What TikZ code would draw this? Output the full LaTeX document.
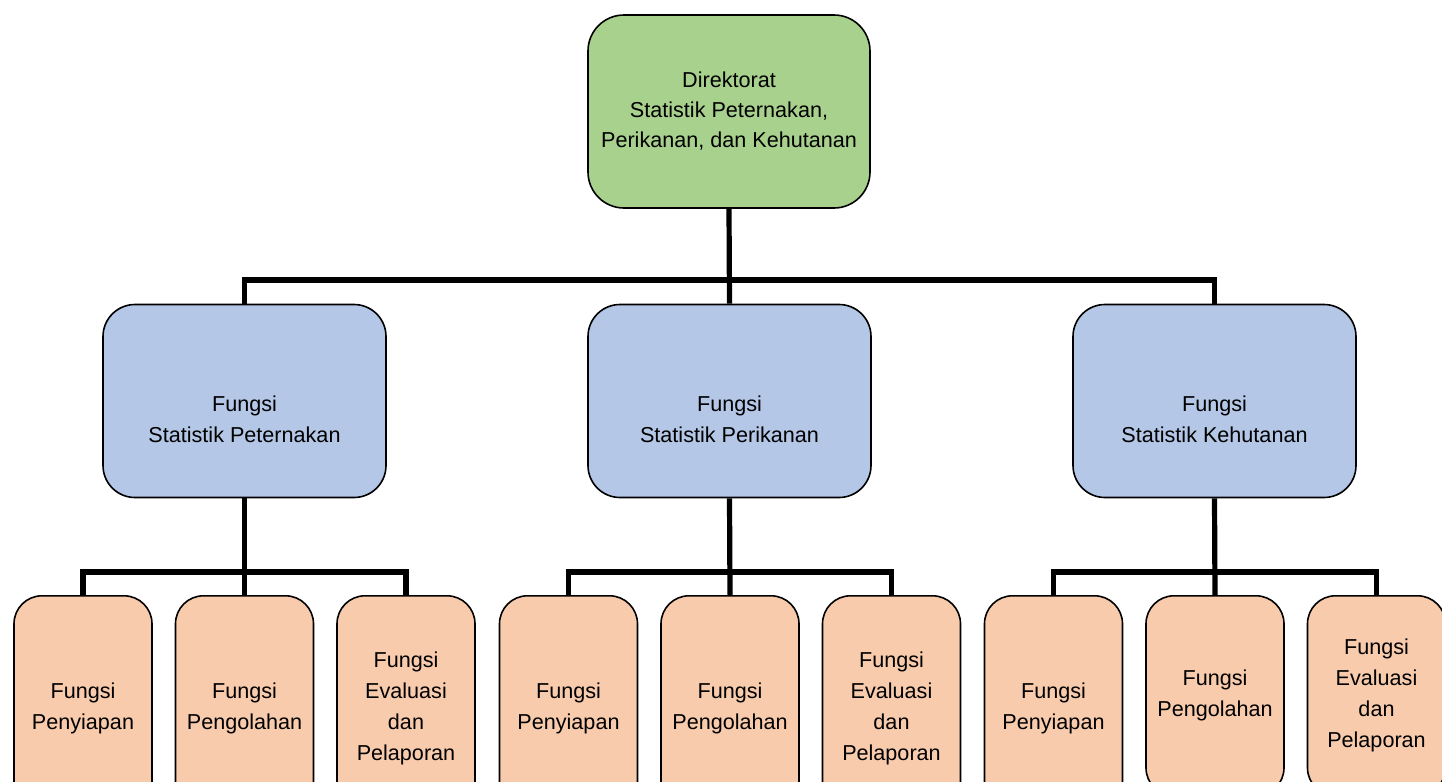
\documentclass[tikz,border=0pt]{standalone}
\usepackage{fontspec}
\setmainfont{Liberation Sans}
\usetikzlibrary{positioning}

\definecolor{dirgreen}{HTML}{A9D18E}
\definecolor{fungsiblue}{HTML}{B4C7E7}
\definecolor{suborange}{HTML}{F8CBAD}

\tikzset{
  box/.style={draw,line width=0.8pt,align=center,inner sep=0pt,
    font=\fontsize{10.8}{15.5}\selectfont},
  dirbox/.style={box,fill=dirgreen,rounded corners=18pt,
    minimum width=141pt,minimum height=96.5pt,font=\fontsize{10.8}{15}\selectfont},
  fungsibox/.style={box,fill=fungsiblue,rounded corners=16pt,
    minimum width=141.5pt,minimum height=96.5pt},
  subbox/.style={box,fill=suborange,rounded corners=14pt,anchor=north,
    minimum width=69pt,minimum height=113pt},
  txt/.style={align=center,inner sep=0pt,font=\fontsize{10.8}{15.5}\selectfont},
  conn/.style={line width=2.6pt}
}

\begin{document}
\begin{tikzpicture}[x=0.5pt,y=-0.5pt]
    \useasboundingbox (0,0) rectangle (1442,782);
    \clip (0,0) rectangle (1442,782);
    % top
    \node[dirbox] (dir) at (729,111.5) {Direktorat\\Statistik Peternakan,\\Perikanan, dan Kehutanan};
    % fungsi
    \node[fungsibox] (fungsiternak) at (244.5,401) {};
    \node[fungsibox] (fungsiikan) at (729.5,401) {};
    \node[fungsibox] (fungsihutan) at (1214.5,401) {};
    \node[txt] (fungsiternakT) at ([yshift=-9pt]fungsiternak.center) {Fungsi\\Statistik Peternakan};
    \node[txt] (fungsiikanT) at ([yshift=-9pt]fungsiikan.center) {Fungsi\\Statistik Perikanan};
    \node[txt] (fungsihutanT) at ([yshift=-9pt]fungsihutan.center) {Fungsi\\Statistik Kehutanan};
    \coordinate (busdir) at (729.5,280);
    \draw[conn] (dir.south) -- (fungsiikan.north);
    \draw[conn] (fungsiternak.north) |- (busdir) -| (fungsihutan.north);
    % sub
    \foreach \g/\x/\h in {ternak/244.5/113, ikan/730/113, hutan/1215/100}{
      \node[subbox] (\g1) at (\x-161.5,595) {Fungsi\\Penyiapan};
      \node[subbox,minimum height=\h pt] (\g2) at (\x,595) {Fungsi\\Pengolahan};
      \node[subbox,minimum height=\h pt] (\g3) at (\x+161.5,595) {Fungsi\\Evaluasi\\dan\\Pelaporan};
      \coordinate (bus\g) at (\x,572);
      \draw[conn] (fungsi\g.south) -- (\g2.north);
      \draw[conn] (\g1.north) |- (bus\g) -| (\g3.north);
    }
\end{tikzpicture}
\end{document}
